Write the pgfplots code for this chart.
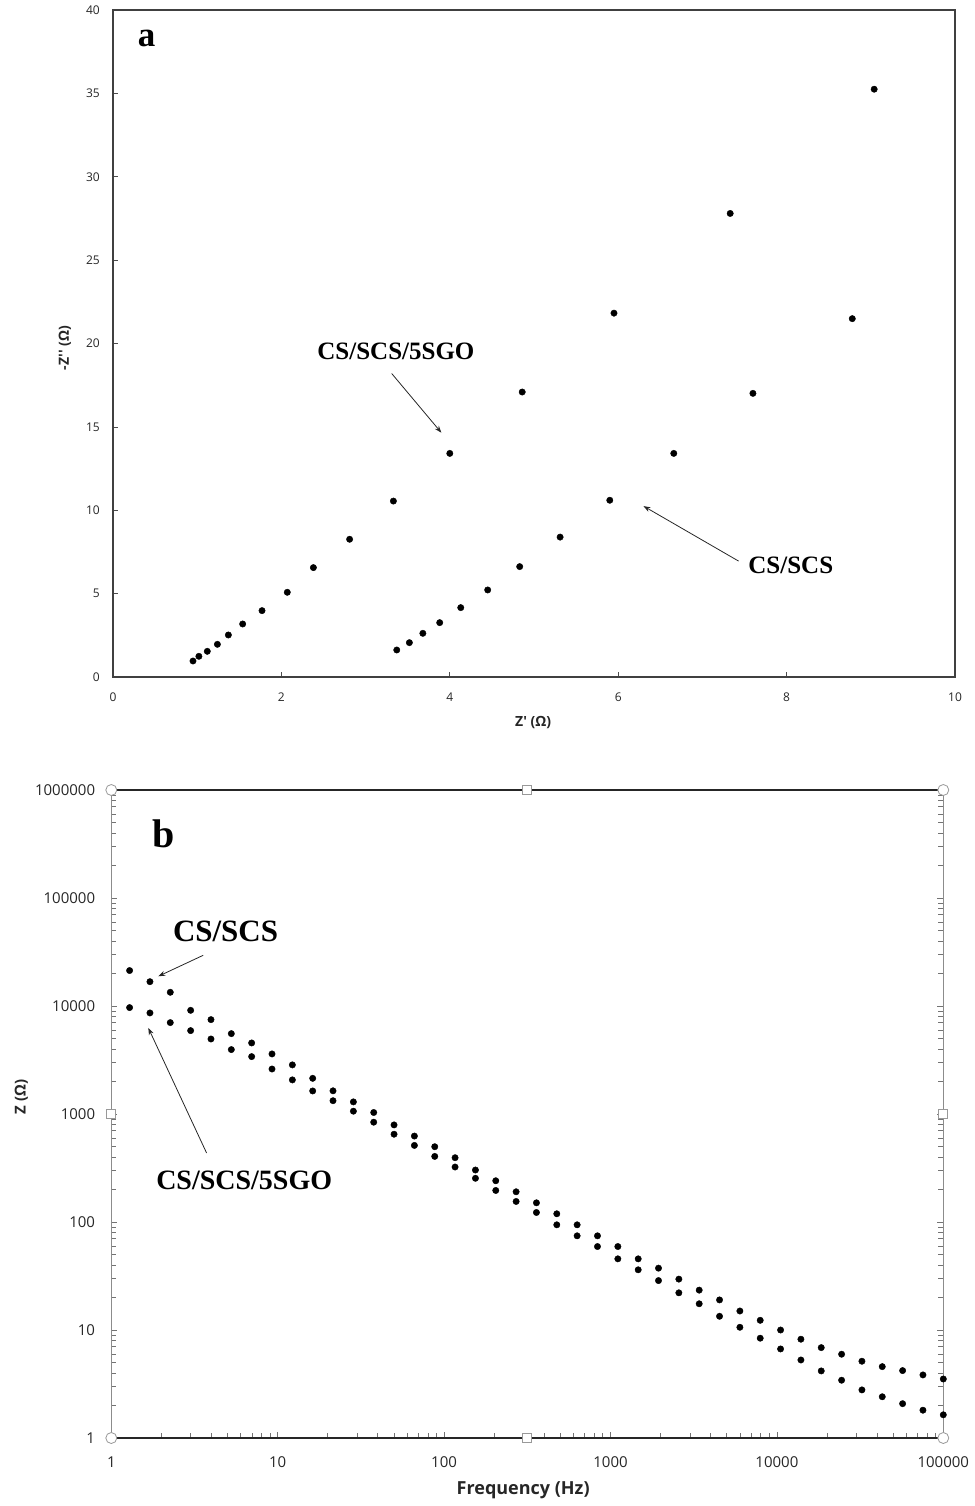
\documentclass[border=0pt]{standalone}
\usepackage{fontspec}
\setmainfont{Open Sans}
\newfontfamily\tnr{Liberation Serif}
\usepackage{pgfplots}
\usepackage{pgfplotstable}
\pgfplotsset{compat=1.18}
\usetikzlibrary{arrows.meta}

\pgfplotstableread{
x y
0.95 0.96
1.02 1.24
1.12 1.54
1.24 1.96
1.37 2.52
1.54 3.18
1.77 3.98
2.07 5.08
2.38 6.56
2.81 8.26
3.33 10.55
4.00 13.41
4.86 17.09
5.95 21.82
7.33 27.80
9.04 35.25
}\nyqgo

\pgfplotstableread{
x y
3.37 1.62
3.52 2.06
3.68 2.62
3.88 3.26
4.13 4.16
4.45 5.22
4.83 6.62
5.31 8.39
5.90 10.60
6.66 13.41
7.60 17.01
8.78 21.49
}\nyqcs

\pgfplotstableread{
f cs go
1.288 21300 9670
1.707 16800 8630
2.262 13400 7020
2.998 9120 5920
3.972 7480 4950
5.264 5550 3950
6.975 4550 3400
9.242 3600 2610
12.25 2850 2070
16.23 2140 1635
21.50 1640 1328
28.50 1295 1062
37.76 1033 840
50.03 793 650
66.30 625 512
87.85 498 405
116.4 394 323
154.3 303 254
204.4 241 196
270.9 190.5 155
358.9 150.6 122.5
475.6 119.2 94.2
630.2 94.2 74.5
835.1 74.5 59.3
1107 59.3 45.6
1467 45.6 36.1
1943 37.4 28.7
2575 29.6 22.1
3412 23.4 17.5
4521 19.0 13.4
5991 15.0 10.6
7938 12.3 8.40
10520 10.0 6.68
13940 8.22 5.28
18470 6.87 4.18
24480 5.97 3.43
32430 5.14 2.79
42970 4.58 2.41
56940 4.21 2.08
75450 3.84 1.81
100000 3.52 1.64
}\bode

\tikzset{hcirc/.style={circle, draw=black!40, line width=0.8pt, fill=white, minimum size=11pt, inner sep=0pt},
         hsq/.style={rectangle, draw=black!40, line width=0.8pt, fill=white, minimum size=9pt, inner sep=0pt}}

\begin{document}
\begin{tikzpicture}[x=1pt,y=1pt]
\useasboundingbox (0,0) rectangle (974,-1506);

% ---------------- panel a ----------------
\begin{axis}[
  at={(113pt,-677pt)}, anchor=south west,
  scale only axis, width=842pt, height=667pt,
  xmin=0, xmax=10, ymin=0, ymax=40,
  clip=false,
  axis line style={black!75, line width=1.1pt},
  xtick={0,2,4,6,8,10}, xticklabels={0,2,4,6,8,10},
  ytick={0,5,10,15,20,25,30,35,40}, yticklabels={0,5,10,15,20,25,30,35,40},
  xtick pos=left, ytick pos=left, tick align=inside,
  major tick length=5pt,
  tick style={black!70, line width=0.7pt},
  tick label style={font=\fontsize{12}{14}\selectfont, text=black!85},
  xticklabel style={anchor=center, yshift=-20pt},
  yticklabel style={anchor=east, xshift=-9.7pt},
]
\addplot[only marks, mark=*, mark size=3.2pt, black] table[x=x,y=y] {\nyqgo};
\addplot[only marks, mark=*, mark size=3.2pt, black] table[x=x,y=y] {\nyqcs};

\node[font=\tnr\bfseries\fontsize{35}{40}\selectfont] at (axis cs:0.40,38.3) {a};
\node[font=\tnr\bfseries\fontsize{25}{30}\selectfont] at (axis cs:3.36,19.5) {CS/SCS/5SGO};
\draw[black!85, line width=0.8pt, -{Stealth[length=7pt,width=5pt]}] (axis cs:3.31,18.2) -- (axis cs:3.90,14.65);
\node[font=\tnr\bfseries\fontsize{25}{30}\selectfont] at (axis cs:8.05,6.69) {CS/SCS};
\draw[black!85, line width=0.8pt, -{Stealth[length=7pt,width=5pt]}] (axis cs:7.43,6.95) -- (axis cs:6.30,10.25);

\node[font=\bfseries\fontsize{14}{16}\selectfont, text=black!85] at (axis description cs:0.499,-0.0675) {Z\textquotesingle{} (Ω)};
\node[rotate=90, font=\bfseries\fontsize{14}{16}\selectfont, text=black!85] at (axis description cs:-0.057,0.493) {-Z\textquotesingle\textquotesingle{} (Ω)};
\end{axis}

% ---------------- panel b ----------------
\begin{axis}[
  at={(111.3pt,-1438pt)}, anchor=south west,
  scale only axis, width=832pt, height=648pt,
  xmode=log, ymode=log,
  xmin=1, xmax=100000, ymin=1, ymax=1000000,
  clip=false,
  separate axis lines,
  x axis line style={black!85, line width=1.6pt},
  y axis line style={black!45, line width=1pt},
  xtick={1,10,100,1000,10000,100000},
  xticklabels={1,10,100,1000,10000,100000},
  ytick={1,10,100,1000,10000,100000,1000000},
  yticklabels={1,10,100,1000,10000,100000,1000000},
  xtick pos=left, ytick pos=both, tick align=inside,
  major tick length=6pt, minor tick length=5pt,
  tick style={black!55, line width=0.8pt},
  tick label style={font=\fontsize{15}{18}\selectfont, text=black!85},
  xticklabel style={anchor=center, yshift=-24pt},
  yticklabel style={anchor=east, xshift=-12.7pt},
]
\addplot[only marks, mark=*, mark size=3.2pt, black] table[x=f,y=cs] {\bode};
\addplot[only marks, mark=*, mark size=3.2pt, black] table[x=f,y=go] {\bode};

\node[font=\tnr\bfseries\fontsize{40}{46}\selectfont] at (axis cs:2.07,396000) {b};
\node[font=\tnr\bfseries\fontsize{31}{36}\selectfont] at (axis cs:4.86,49200) {CS/SCS};
\draw[black!85, line width=0.8pt, -{Stealth[length=7pt,width=5pt]}] (axis cs:3.57,29500) -- (axis cs:1.917,18850);
\node[font=\tnr\bfseries\fontsize{28}{33}\selectfont] at (axis cs:6.29,241) {CS/SCS/5SGO};
\draw[black!85, line width=0.8pt, -{Stealth[length=7pt,width=5pt]}] (axis cs:3.74,435) -- (axis cs:1.669,6270);

\node[font=\bfseries\fontsize{18}{21}\selectfont, text=black!85] at (axis description cs:0.495,-0.080) {Frequency (Hz)};
\node[rotate=90, font=\bfseries\fontsize{15}{18}\selectfont, text=black!85] at (axis description cs:-0.108,0.526) {Z (Ω)};

% chart selection handles
\node[hcirc] at (axis description cs:0,0) {};
\node[hcirc] at (axis description cs:1,0) {};
\node[hcirc] at (axis description cs:0,1) {};
\node[hcirc] at (axis description cs:1,1) {};
\node[hsq] at (axis description cs:0.5,0) {};
\node[hsq] at (axis description cs:0.5,1) {};
\node[hsq] at (axis description cs:0,0.5) {};
\node[hsq] at (axis description cs:1,0.5) {};
\end{axis}
\end{tikzpicture}
\end{document}
